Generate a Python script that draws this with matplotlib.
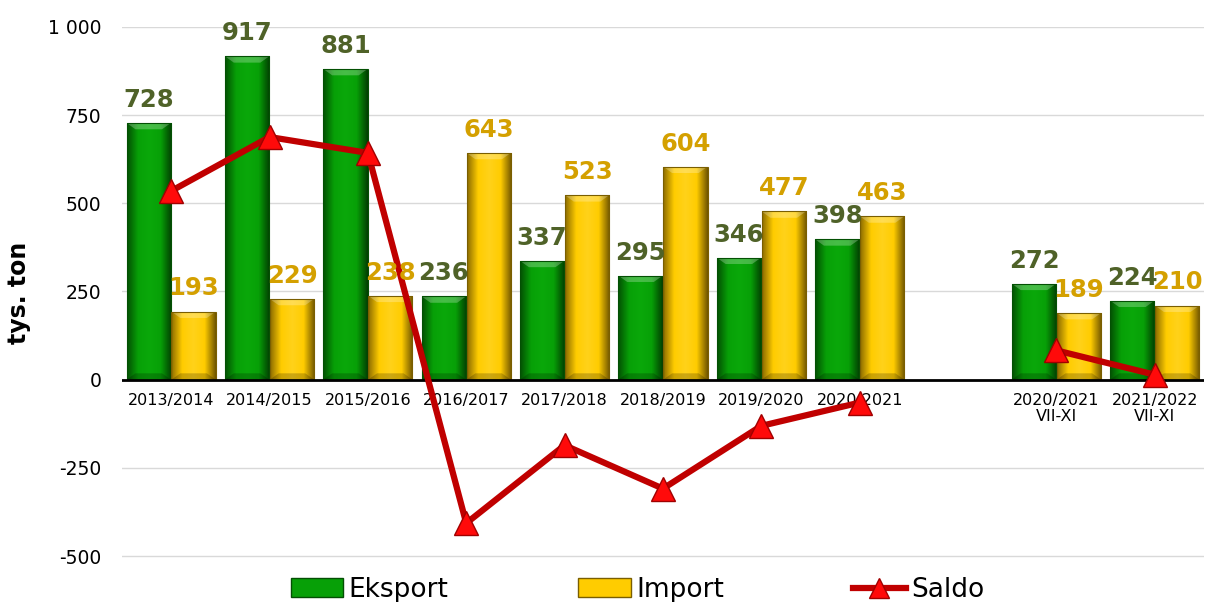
import numpy as np
import matplotlib
matplotlib.use("Agg")
import matplotlib.pyplot as plt
from matplotlib.colors import LinearSegmentedColormap
from matplotlib.lines import Line2D
from matplotlib.patches import Patch
from matplotlib import transforms

categories = ["2013/2014", "2014/2015", "2015/2016", "2016/2017", "2017/2018",
              "2018/2019", "2019/2020", "2020/2021", "",
              "2020/2021\nVII-XI", "2021/2022\nVII-XI"]
eksport = [728, 917, 881, 236, 337, 295, 346, 398, None, 272, 224]
import_ = [193, 229, 238, 643, 523, 604, 477, 463, None, 189, 210]
saldo = [535, 688, 643, -407, -186, -309, -131, -65, None, 83, 14]
yticks = [-500, -250, 0, 250, 500, 750, 1000]
ytick_labels = ["-500", "-250", "0", "250", "500", "750", "1 000"]

plt.rcParams['font.family'] = ['DejaVu Sans']

fig = plt.figure(figsize=(12.26, 6.02), dpi=100)
ylo, yhi = -505, 1000
px_per = (556 - 27) / 1500.0
bottom_px = 556 + (-500 - ylo) * px_per
ax = fig.add_axes([0.0995, 1 - bottom_px / 602, 0.8825, (bottom_px - 27) / 602])

x = np.arange(len(categories))
bw = 0.45
off = 0.228

green_cmap = LinearSegmentedColormap.from_list("g", ["#034f03", "#07a007", "#0aa80a", "#07a007", "#023d02"])
yellow_cmap = LinearSegmentedColormap.from_list("y", ["#8a6a00", "#ffcc00", "#ffd21a", "#ffcc00", "#6e5400"])

def draw_bars(xs, vals, cmap, edge, lab_color):
    xv = [xi for xi, v in zip(xs, vals) if v is not None]
    vv = [v for v in vals if v is not None]
    bars = ax.bar(xv, vv, width=bw, color="none", edgecolor=edge, linewidth=0.8, zorder=3)
    grad = np.linspace(0, 1, 256).reshape(1, -1)
    for b, v in zip(bars, vv):
        x0, w, h = b.get_x(), b.get_width(), b.get_height()
        im = ax.imshow(grad, cmap=cmap, extent=[x0, x0 + w, 0, h], aspect='auto', zorder=2.5)
        im.set_clip_path(b)
        ax.fill([x0, x0 + w, x0 + w * 0.8, x0 + w * 0.2], [h, h, h - 18, h - 18],
                color="white", alpha=0.25, zorder=2.7, lw=0)
        ax.fill([x0, x0 + w, x0 + w * 0.8, x0 + w * 0.2], [0, 0, 18, 18],
                color="black", alpha=0.2, zorder=2.7, lw=0)
        ax.annotate(str(v), (x0 + w / 2, h), xytext=(0, 8), textcoords="offset points",
                    ha="center", va="bottom", fontsize=17.5, fontweight="bold", color=lab_color, zorder=6)
    return bars

draw_bars(x - off, eksport, green_cmap, "#035003", "#4F6228")
draw_bars(x + off, import_, yellow_cmap, "#7a5e00", "#D4A000")

sy = [np.nan if v is None else v for v in saldo]
ax.plot(x, sy, color="#C00000", lw=4.5, zorder=4, solid_joinstyle="round")
ax.plot(x, sy, linestyle="none", marker="^", markersize=17, markerfacecolor="#FF0A0A",
        markeredgecolor="#A00000", markeredgewidth=1, zorder=5)

ax.set_xlim(-0.5, len(categories) - 0.5)
ax.set_ylim(ylo, yhi)
ax.set_yticks(yticks)
ax.set_yticklabels(ytick_labels, fontsize=13.5)
ax.tick_params(axis="y", length=0, pad=15)
ax.set_xticks([])
ax.grid(axis="y", color="#D9D9D9", lw=1, zorder=0)
ax.set_axisbelow(True)
for s in ax.spines.values():
    s.set_visible(False)
ax.axhline(0, color="black", lw=2, zorder=3.5)

ax.set_ylabel("tys. ton", fontsize=17, fontweight="bold", labelpad=12)

offset = transforms.ScaledTranslation(0, -13 / 100, fig.dpi_scale_trans)
for xi, c in zip(x, categories):
    ax.text(xi, 0, c, transform=ax.transData + offset, ha="center", va="top",
            fontsize=11.5, linespacing=1.1, zorder=1)

handles = [Patch(facecolor="#07a007", edgecolor="#034f03", label="Eksport"),
           Patch(facecolor="#ffcc00", edgecolor="#7a5e00", label="Import"),
           Line2D([0], [0], color="#C00000", lw=4.5, marker="^", markersize=14,
                  markerfacecolor="#FF0A0A", markeredgecolor="#A00000", label="Saldo")]
fig.legend(handles=handles, loc="center", bbox_to_anchor=(0.52, 0.02), ncol=3,
           frameon=False, fontsize=19, columnspacing=4.9, handlelength=2.0, handleheight=0.75,
           handletextpad=0.2)

fig.savefig("out.png", dpi=100)
